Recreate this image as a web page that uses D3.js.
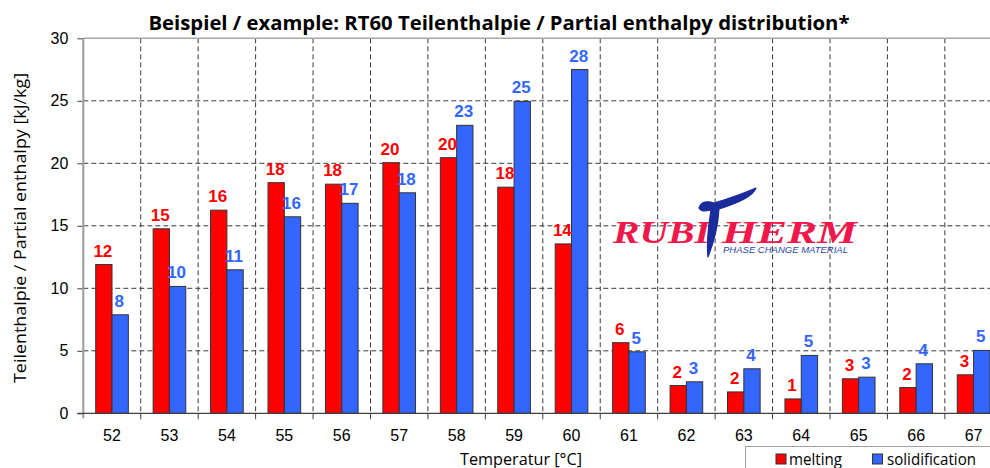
<!DOCTYPE html>
<html>
<head>
<meta charset="utf-8">
<script src="https://cdn.jsdelivr.net/npm/d3@7"></script>
<style>
  body { margin: 0; background: #fff; }
  svg { display: block; }
</style>
</head>
<body>
<div id="chart"></div>
<script>
// data
var categories = ["52","53","54","55","56","57","58","59","60","61","62","63","64","65","66","67"];
var melting = [11.9, 14.76, 16.25, 18.45, 18.33, 20.05, 20.45, 18.09, 13.55, 5.65, 2.22, 1.71, 1.15, 2.76, 2.06, 3.08];
var solidification = [7.88, 10.15, 11.48, 15.72, 16.8, 17.64, 23.04, 24.95, 27.5, 4.92, 2.52, 3.56, 4.63, 2.89, 3.96, 5.03];
var yTicks = [0, 5, 10, 15, 20, 25, 30];
var seriesNames = ["melting", "solidification"];

var data = categories.map(function(c, i){
  return {name: c, melting: melting[i], solidification: solidification[i]};
});

var width = 990, height = 468;
var colors = {melting: "#ff0000", solidification: "#3366ff"};

const svg = d3.select("#chart")
  .append("svg")
  .attr("width", width)
  .attr("height", height);

// plot area (right side runs past the window like in the original)
var plotLeft = 83.3, plotRight = 1002.3, plotTop = 38.3, plotBottom = 413.3;

const x = d3.scaleBand()
  .domain(categories)
  .range([plotLeft, plotRight])
  .padding(0);

const x1 = d3.scaleBand()
  .domain(seriesNames)
  .range([12.4, x.bandwidth() - 12.4]);

const y = d3.scaleLinear()
  .domain([0, 30])
  .range([plotBottom, plotTop]);

// horizontal grid (dashed)
svg.append("g")
  .selectAll("line")
  .data(yTicks.filter(d => d > 0 && d < 30))
  .join("line")
    .attr("x1", plotLeft)
    .attr("x2", width)
    .attr("y1", d => y(d))
    .attr("y2", d => y(d))
    .attr("stroke", "#3a3a3a")
    .attr("stroke-width", 1)
    .attr("stroke-dasharray", "5,3");

// vertical grid between categories
svg.append("g")
  .selectAll("line")
  .data(categories.slice(1))
  .join("line")
    .attr("x1", d => x(d))
    .attr("x2", d => x(d))
    .attr("y1", plotTop)
    .attr("y2", plotBottom)
    .attr("stroke", "#3a3a3a")
    .attr("stroke-width", 1)
    .attr("stroke-dasharray", "5,3");

// top border
svg.append("line")
  .attr("x1", plotLeft).attr("x2", width)
  .attr("y1", y(30)).attr("y2", y(30))
  .attr("stroke", "#a6a6a6")
  .attr("stroke-width", 1.5);

// Logo
var logo = svg.append("g");
logo.append("text")
  .attr("x", 613).attr("y", 243)
  .attr("font-family", "Liberation Serif, serif")
  .attr("font-weight", "bold")
  .attr("font-style", "italic")
  .attr("font-size", 32)
  .attr("fill", "#f0174a")
  .attr("textLength", 97)
  .attr("lengthAdjust", "spacingAndGlyphs")
  .text("RUBI");
logo.append("text")
  .attr("x", 722).attr("y", 243)
  .attr("font-family", "Liberation Serif, serif")
  .attr("font-weight", "bold")
  .attr("font-style", "italic")
  .attr("font-size", 32)
  .attr("fill", "#f0174a")
  .attr("textLength", 135)
  .attr("lengthAdjust", "spacingAndGlyphs")
  .text("HERM");
logo.append("path")
  .attr("d", "M699,208 C701,201 708,201 714,203 C728,199 744,193 756,188 C753,196 740,202 719,209 C718,226 714,242 708,257 C706,241 709,224 711,210 C706,211 701,212 699,208 Z")
  .attr("fill", "#1a2b9c")
  .attr("stroke", "#1a2b9c")
  .attr("stroke-width", 1.2)
  .attr("stroke-linejoin", "round");
logo.append("text")
  .attr("x", 723).attr("y", 252.5)
  .attr("font-family", "Liberation Sans, Arial, sans-serif")
  .attr("font-style", "italic")
  .attr("font-size", 8.5)
  .attr("fill", "#2b3fa8")
  .attr("textLength", 125)
  .attr("lengthAdjust", "spacingAndGlyphs")
  .text("PHASE CHANGE MATERIAL");

//Bars
var groups = svg.append("g")
  .selectAll("g")
  .data(data)
  .join("g")
    .attr("transform", d => `translate(${x(d.name)},0)`);

groups.selectAll("rect")
  .data(d => seriesNames.map(k => ({key: k, value: d[k]})))
  .join("rect")
    .attr("x", d => x1(d.key))
    .attr("y", d => y(d.value))
    .attr("width", x1.bandwidth())
    .attr("height", d => plotBottom - y(d.value))
    .attr("fill", d => colors[d.key])
    .attr("stroke", "#333")
    .attr("stroke-width", 1);

//add value at top of the bars
groups.selectAll("text")
  .data(d => seriesNames.map(k => ({key: k, value: d[k]})))
  .join("text")
    .attr("x", d => x1(d.key) + x1.bandwidth()/2 - 1)
    .attr("y", d => y(d.value) - 8)
    .attr("text-anchor", "middle")
    .attr("font-family", "Liberation Sans, Arial, sans-serif")
    .attr("font-weight", "bold")
    .attr("font-size", 17)
    .attr("fill", d => colors[d.key])
    .text(d => Math.round(d.value));

// y axis
svg.append("g")
  .attr("transform", `translate(${plotLeft},0)`)
  .call(d3.axisLeft(y).tickValues(yTicks).tickSize(6).tickPadding(9))
  .call(g => g.select(".domain").remove())
  .call(g => g.selectAll("line").attr("stroke", "#404040"))
  .selectAll("text")
    .attr("font-family", "Liberation Sans, Arial, sans-serif")
    .attr("font-size", 16)
    .attr("fill", "#000");

svg.append("line")
  .attr("x1", plotLeft).attr("x2", plotLeft)
  .attr("y1", plotTop).attr("y2", plotBottom + 5)
  .attr("stroke", "#9a9a9a")
  .attr("stroke-width", 2);

// x axis
svg.append("line")
  .attr("x1", plotLeft - 6).attr("x2", width)
  .attr("y1", plotBottom).attr("y2", plotBottom)
  .attr("stroke", "#404040")
  .attr("stroke-width", 1.2);

svg.append("g")
  .selectAll("line")
  .data(categories.slice(1))
  .join("line")
    .attr("x1", d => x(d)).attr("x2", d => x(d))
    .attr("y1", plotBottom).attr("y2", plotBottom + 6)
    .attr("stroke", "#404040");

svg.append("g")
  .selectAll("text")
  .data(categories)
  .join("text")
    .attr("x", d => x(d) + x.bandwidth()/2)
    .attr("y", 441)
    .attr("text-anchor", "middle")
    .attr("font-family", "Liberation Sans, Arial, sans-serif")
    .attr("font-size", 16)
    .attr("fill", "#000")
    .text(d => d);

// titles
svg.append("text")
  .attr("x", 148.5).attr("y", 29.5)
  .attr("font-family", "Open Sans, sans-serif")
  .attr("font-weight", "bold")
  .attr("font-size", 20)
  .attr("textLength", 701)
  .attr("lengthAdjust", "spacingAndGlyphs")
  .text("Beispiel / example: RT60 Teilenthalpie / Partial enthalpy distribution*");

svg.append("text")
  .attr("x", 460).attr("y", 464.5)
  .attr("font-family", "Open Sans, sans-serif")
  .attr("font-size", 15.5)
  .attr("textLength", 122)
  .attr("lengthAdjust", "spacingAndGlyphs")
  .text("Temperatur [°C]");

svg.append("text")
  .attr("transform", "translate(26,383) rotate(-90)")
  .attr("font-family", "Open Sans, sans-serif")
  .attr("font-size", 15.5)
  .attr("textLength", 310)
  .attr("lengthAdjust", "spacingAndGlyphs")
  .text("Teilenthalpie / Partial enthalpy [kJ/kg]");

// legend
var legend = svg.append("g");
legend.append("rect")
  .attr("x", 745.5).attr("y", 446.5)
  .attr("width", 300).attr("height", 40)
  .attr("fill", "#fff")
  .attr("stroke", "#a0a0a0");

var legendX = {melting: [776, 789, 53], solidification: [872.5, 887, 89]};
seriesNames.forEach(function(k){
  legend.append("rect")
    .attr("x", legendX[k][0]).attr("y", 454)
    .attr("width", 10).attr("height", 10)
    .attr("fill", colors[k])
    .attr("stroke", "#333");
  legend.append("text")
    .attr("x", legendX[k][1]).attr("y", 464.5)
    .attr("font-family", "Open Sans, sans-serif")
    .attr("font-size", 15.5)
    .attr("textLength", legendX[k][2])
    .attr("lengthAdjust", "spacingAndGlyphs")
    .text(k);
});
</script>
</body>
</html>
